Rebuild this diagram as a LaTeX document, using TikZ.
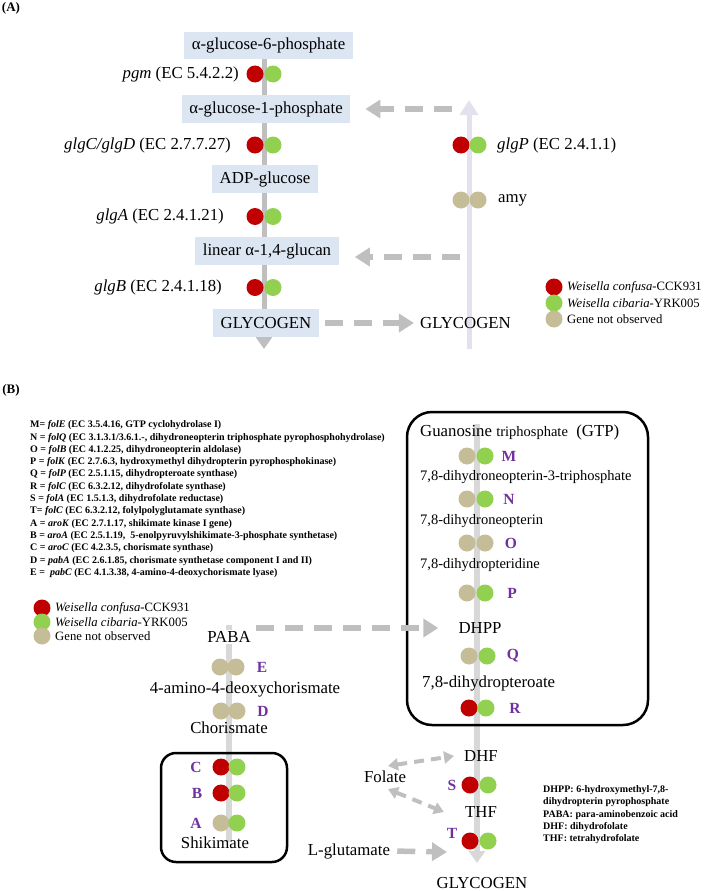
\documentclass[tikz,border=0pt]{standalone}
\usepackage{fontspec}
\setmainfont{Liberation Serif}
\usetikzlibrary{positioning}
\usetikzlibrary{backgrounds}
\usetikzlibrary{arrows.meta}
\definecolor{cckred}{RGB}{192,0,0}
\definecolor{yrkgreen}{RGB}{146,208,80}
\definecolor{nobtan}{RGB}{196,189,151}
\definecolor{boxblue}{RGB}{220,230,242}
\definecolor{linegray}{RGB}{191,191,191}
\definecolor{lightgray}{RGB}{216,216,216}
\definecolor{lavender}{RGB}{229,224,238}
\definecolor{lettpurple}{RGB}{112,48,160}
\def\pwbig{\fontsize{16.8}{19}\selectfont}
\def\pwsmall{\fontsize{14.5}{17}\selectfont}
\def\pwleg{\fontsize{12.7}{14}\selectfont}
\def\pwnote{\fontsize{10}{12.3}\selectfont\bfseries}
\def\pwletter{\fontsize{15.5}{17}\selectfont\bfseries}
\tikzset{
x=1pt, y=-1pt, % pixel grid, y downwards
>={Triangle[width=16pt,length=12pt]},
my dot/.style={circle,minimum size=17pt,inner sep=0pt},
cck/.style={my dot,fill=cckred},
yrk/.style={my dot,fill=yrkgreen},
nob/.style={my dot,fill=nobtan},
panel/.style={inner sep=0pt,font=\fontsize{13}{15}\selectfont\bfseries},
metab/.style={fill=boxblue,inner xsep=7.5pt,inner ysep=0pt,minimum height=27.5pt,font=\pwbig},
enz/.style={anchor=east,inner sep=0pt,font=\pwbig},
enzr/.style={anchor=west,inner sep=0pt,font=\pwbig},
cpd/.style={inner sep=0pt,font=\pwbig},
letter/.style={inner sep=0pt,font=\pwletter,text=lettpurple},
legtext/.style={anchor=west,inner sep=0pt,font=\pwleg},
note/.style={anchor=north west,inner sep=0pt,align=left,font=\pwnote},
pathbox/.style={draw,line width=2.5pt},
main line/.style={draw=linegray,line width=5pt},
fol line/.style={draw=lightgray,line width=5.5pt},
lav line/.style={draw=lavender,line width=5pt,-{Triangle[width=18pt,length=15pt]}},
gap arrow/.style={draw=linegray,line width=5.5pt,dash pattern=on 18pt off 11pt,
  -{Triangle[width=18pt,length=15pt]}},
fol arrow/.style={draw=linegray,line width=4pt,dash pattern=on 10pt off 7pt,
  {Triangle[width=12pt,length=10pt]}-{Triangle[width=12pt,length=10pt]}}
}
\begin{document}
\begin{tikzpicture}
\useasboundingbox (0,0) rectangle (704,891);

% ---------- (A) glycogen ----------
\node[panel] (pA) at (11,8) {(A)};
\node[metab] (g6p)    at (268.5,45.5) {α-glucose-6-phosphate};
\node[metab] (g1p)    at (266,109)    {α-glucose-1-phosphate};
\node[metab] (adpg)   at (265,179)    {ADP-glucose};
\node[metab] (glucan) at (267,251)    {linear α-1,4-glucan};
\node[metab] (glyA)   at (266,323)    {GLYCOGEN};
\node[cpd]   (glyB)   at (465.5,323)  {GLYCOGEN};

\node[cck] (pgmR) at (255,74) {};   \node[yrk] (pgmG) at (273,74) {};
\node[enz] (pgm) at (239,74) {\textit{pgm} (EC 5.4.2.2)};
\node[cck] (glgcR) at (255,145) {}; \node[yrk] (glgcG) at (273,145) {};
\node[enz] (glgc) at (231,145) {\textit{glgC/glgD} (EC 2.7.7.27)};
\node[cck] (glgaR) at (255,216.5) {}; \node[yrk] (glgaG) at (273,216.5) {};
\node[enz] (glga) at (224,216.5) {\textit{glgA} (EC 2.4.1.21)};
\node[cck] (glgbR) at (255,287.5) {}; \node[yrk] (glgbG) at (273,287.5) {};
\node[enz] (glgb) at (222,287.5) {\textit{glgB} (EC 2.4.1.18)};

\node[cck] (glgpR) at (461,145) {}; \node[yrk] (glgpG) at (478,145) {};
\node[enzr] (glgp) at (497,145) {\textit{glgP} (EC 2.4.1.1)};
\node[nob] (amyR) at (461,200) {};  \node[nob] (amyG) at (478,200) {};
\node[enzr] (amy) at (498,200) {amy};

\coordinate (atop) at (264,45);
\coordinate (abot) at (264,349);
\coordinate (lavbot) at (469,349);
\coordinate (lavtop) at (469,100);
\coordinate (degr1) at (452,109);
\coordinate (degr2) at (460,257);

% legend (A)
\node[cck] (legAr) at (554,287) {};
\node[yrk] (legAg) at (554,303) {};
\node[nob] (legAt) at (554,319) {};
\node[legtext] (legArt) at (567,287) {\textit{Weisella confusa}-CCK931};
\node[legtext] (legAgt) at (567,303) {\textit{Weisella cibaria}-YRK005};
\node[legtext] (legAtt) at (567,319) {Gene not observed};

\begin{scope}[on background layer]
\draw[main line,->] (atop) -- (abot);
\draw[lav line] (lavbot) -- (lavtop);
\end{scope}
\draw[gap arrow,shorten >=15pt] (degr1) -- (g1p.east);
\draw[gap arrow,shorten >=16pt] (degr2) -- (glucan.east |- degr2);
\draw[gap arrow,shorten <=6pt,shorten >=6pt] (glyA.east) -- (glyB.west);

% ---------- (B) folate ----------
\node[panel] (pB) at (11,390) {(B)};
\node[note] (genes) at (30,420.5) {%
M= \textit{folE} (EC 3.5.4.16, GTP cyclohydrolase I)\\
N = \textit{folQ} (EC 3.1.3.1/3.6.1.-, dihydroneopterin triphosphate pyrophosphohydrolase)\\
O = \textit{folB} (EC 4.1.2.25, dihydroneopterin aldolase)\\
P = \textit{folK} (EC 2.7.6.3, hydroxymethyl dihydropterin pyrophosphokinase)\\
Q = \textit{folP} (EC 2.5.1.15, dihydropteroate synthase)\\
R = \textit{folC} (EC 6.3.2.12, dihydrofolate synthase)\\
S = \textit{folA} (EC 1.5.1.3, dihydrofolate reductase)\\
T= \textit{folC} (EC 6.3.2.12, folylpolyglutamate synthase)\\
A = \textit{aroK} (EC 2.7.1.17, shikimate kinase I gene)\\
B = \textit{aroA} (EC 2.5.1.19, \ 5-enolpyruvylshikimate-3-phosphate synthetase)\\
C = \textit{aroC} (EC 4.2.3.5, chorismate synthase)\\
D = \textit{pabA} (EC 2.6.1.85, chorismate synthetase component I and II)\\
E = \ \textit{pabC} (EC 4.1.3.38, 4-amino-4-deoxychorismate lyase)};

% legend (B)
\node[cck] (legBr) at (42,608) {};
\node[yrk] (legBg) at (42,622) {};
\node[nob] (legBt) at (42,636) {};
\node[legtext] (legBrt) at (55,608) {\textit{Weisella confusa}-CCK931};
\node[legtext] (legBgt) at (55,622) {\textit{Weisella cibaria}-YRK005};
\node[legtext] (legBtt) at (55,636) {Gene not observed};

% pterin branch
\node[pathbox,rounded corners=25pt,minimum width=241pt,minimum height=313pt] (folbox) at (527.5,568.5) {};
\node[cpd,anchor=west] (gtp) at (420,432) {Guanosine {\pwsmall triphosphate}\enspace(GTP)};
\node[nob] (mL) at (467,456) {}; \node[yrk] (mR) at (485,456) {};
\node[letter] (M) at (509,456) {M};
\node[cpd,anchor=west,font=\pwsmall] (dntp) at (420,477) {7,8-dihydroneopterin-3-triphosphate};
\node[nob] (nL) at (467,499) {}; \node[yrk] (nR) at (485,499) {};
\node[letter] (N) at (509,499) {N};
\node[cpd,anchor=west,font=\pwsmall] (dnp) at (420,521) {7,8-dihydroneopterin};
\node[nob] (oL) at (467,543) {}; \node[nob] (oR) at (485,543) {};
\node[letter] (O) at (511,543) {O};
\node[cpd,anchor=west,font=\pwsmall] (dhpt) at (420,565) {7,8-dihydropteridine};
\node[nob] (pL) at (467,593) {}; \node[yrk] (pR) at (485,593) {};
\node[letter] (P) at (512,593) {P};
\node[cpd] (dhpp) at (480,628) {DHPP};
\node[nob] (qL) at (469,656) {}; \node[yrk] (qR) at (487,656) {};
\node[letter] (Q) at (513,656) {Q};
\node[cpd,anchor=west] (dhpte) at (422,683) {7,8-dihydropteroate};
\node[cck] (rL) at (469,708) {}; \node[yrk] (rR) at (486,708) {};
\node[letter] (R) at (515,708) {R};
\node[cpd] (dhf) at (481,756) {DHF};
\node[cck] (sL) at (470,785) {}; \node[yrk] (sR) at (488,785) {};
\node[letter] (S) at (452,785) {S};
\node[cpd] (thf) at (481,812) {THF};
\node[cck] (tL) at (470,841) {}; \node[yrk] (tR) at (488,841) {};
\node[letter] (T) at (452,833) {T};
\node[cpd,anchor=base] (glyC) at (482,888) {GLYCOGEN};

% PABA branch
\node[cpd,fill=white,inner sep=1pt] (paba) at (229,637) {PABA};
\node[nob] (eL) at (220,667) {}; \node[nob] (eR) at (236,667) {};
\node[letter] (E) at (262,667) {E};
\node[cpd] (adc) at (245,689) {4-amino-4-deoxychorismate};
\node[nob] (dL) at (221,711) {}; \node[nob] (dR) at (237,711) {};
\node[letter] (D) at (263,711) {D};
\node[cpd] (chor) at (229,728) {Chorismate};
\node[pathbox,rounded corners=15pt,minimum width=126pt,minimum height=109pt] (shibox) at (224,807.5) {};
\node[cck] (cL) at (221,767) {}; \node[yrk] (cR) at (237,767) {};
\node[letter] (C) at (196,767) {C};
\node[cck] (bL) at (221,793) {}; \node[yrk] (bR) at (237,793) {};
\node[letter] (B) at (197,793) {B};
\node[nob] (aL) at (221,823) {}; \node[yrk] (aR) at (237,823) {};
\node[letter] (A) at (196,823) {A};
\node[cpd] (shik) at (215,843) {Shikimate};

\node[cpd] (folate) at (385,777) {Folate};
\node[cpd] (glu) at (349,851) {L-glutamate};
\coordinate (glutip) at (447,852);
\coordinate (ftop) at (477,424);
\coordinate (fbot) at (477,863);
\coordinate (pbot) at (229,842);
\coordinate (ptop) at (229,625);

\node[note] (abbr) at (543,785.5) {%
DHPP: 6-hydroxymethyl-7,8-\\
dihydropterin pyrophosphate\\
PABA: para-aminobenzoic acid\\
DHF: dihydrofolate\\
THF: tetrahydrofolate};

\begin{scope}[on background layer]
\draw[fol line,->] (ftop) -- (fbot);
\draw[fol line] (pbot) -- (ptop);
\end{scope}
\draw[gap arrow,shorten <=4pt,shorten >=20pt] (paba.east |- dhpp.west) -- (dhpp.west);
\draw[gap arrow,shorten <=7pt] (glu.east) -- (glutip);
\draw[fol arrow] ([xshift=3pt,yshift=5pt]folate.north) -- ([xshift=-10pt]dhf.west);
\draw[fol arrow] ([xshift=3pt,yshift=-6pt]folate.south) -- ([xshift=-21pt]thf.west);
\end{tikzpicture}
\end{document}
